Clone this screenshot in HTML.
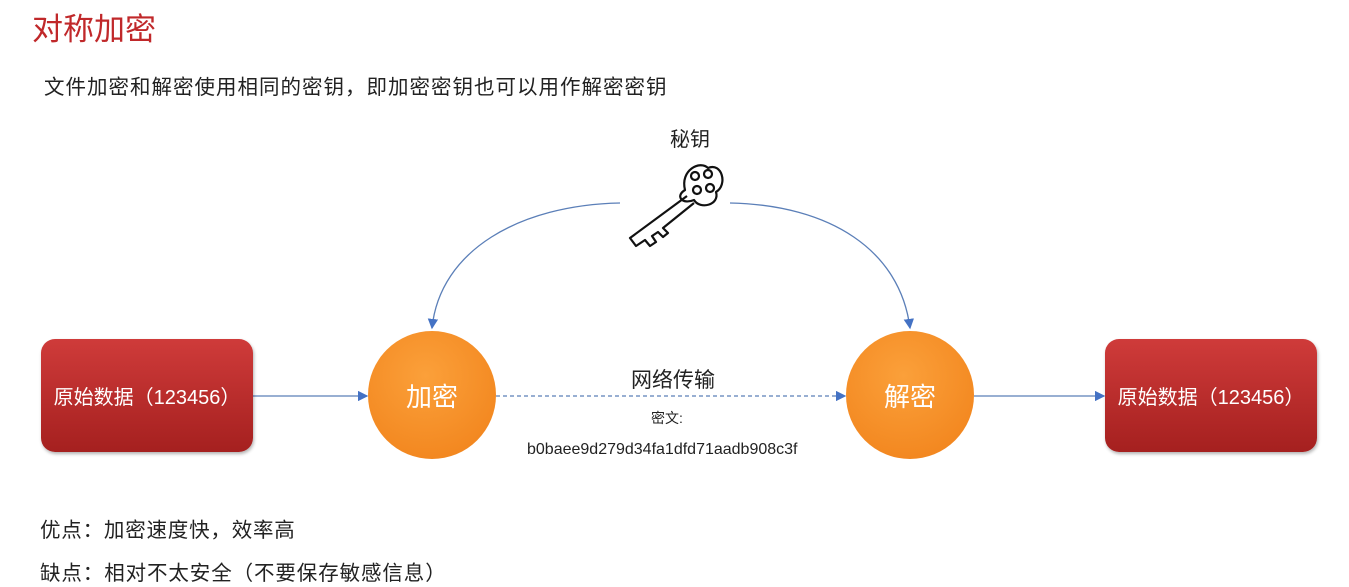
<!DOCTYPE html>
<html><head><meta charset="utf-8"><style>
body{margin:0;width:1349px;height:587px;background:#fff;position:relative;overflow:hidden;font-family:"Liberation Sans","Noto Sans CJK SC",sans-serif;color:#222}
.t{position:absolute;white-space:nowrap}
.box{position:absolute;width:212px;height:113px;border-radius:14px;background:linear-gradient(#cf3b3a,#a5201f);color:#fff;font-size:20px;display:flex;align-items:center;justify-content:center;box-shadow:1px 2px 3px rgba(0,0,0,.3)}
.c{position:absolute;width:128px;height:128px;border-radius:50%;background:radial-gradient(circle at 45% 35%,#fba03a,#f08018);color:#fff;font-size:26px;display:flex;align-items:center;justify-content:center}
</style></head><body>
<div class="t" style="left:32px;top:4px;font-size:31px;color:#c0282a">对称加密</div>
<div class="t" style="left:44px;top:70px;font-size:20.5px;letter-spacing:1px">文件加密和解密使用相同的密钥，即加密密钥也可以用作解密密钥</div>
<div class="t" style="left:670px;top:123px;font-size:20px">秘钥</div>
<svg width="1349" height="587" style="position:absolute;left:0;top:0">
<defs><marker id="a" markerWidth="8" markerHeight="8" refX="7" refY="4" orient="auto"><path d="M0,0L8,4L0,8z" fill="#4472c4"/></marker></defs>
<path d="M620,203 C520,205 440,250 432,328" fill="none" stroke="#5b7fb8" stroke-width="1.3" marker-end="url(#a)"/>
<path d="M730,203 C830,205 900,250 910,328" fill="none" stroke="#5b7fb8" stroke-width="1.3" marker-end="url(#a)"/>
<line x1="253" y1="396" x2="367" y2="396" stroke="#5b7fb8" stroke-width="1.3" marker-end="url(#a)"/>
<line x1="496" y1="396" x2="845" y2="396" stroke="#5b7fb8" stroke-width="1.3" stroke-dasharray="4,3" marker-end="url(#a)"/>
<line x1="974" y1="396" x2="1104" y2="396" stroke="#5b7fb8" stroke-width="1.3" marker-end="url(#a)"/>
<g fill="none" stroke="#111" stroke-width="2.2" stroke-linejoin="round">
<path d="M685,190 C680,170 700,160 708,168 C722,162 728,185 716,192 C720,205 700,210 694,200 C682,205 675,196 685,190z"/>
<circle cx="695" cy="176" r="4"/><circle cx="708" cy="174" r="4"/><circle cx="697" cy="190" r="4"/><circle cx="710" cy="188" r="4"/>
<path d="M687,196 L630,238 L636,246 L645,240 L650,246 L656,242 L652,236 L658,232 L663,237 L668,233 L663,228 L694,203"/>
</g>
</svg>
<div class="box" style="left:41px;top:339px">原始数据（123456）</div>
<div class="box" style="left:1105px;top:339px">原始数据（123456）</div>
<div class="c" style="left:368px;top:331px">加密</div>
<div class="c" style="left:846px;top:331px">解密</div>
<div class="t" style="left:631px;top:364px;font-size:21px">网络传输</div>
<div class="t" style="left:651px;top:408px;font-size:14px">密文:</div>
<div class="t" style="left:527px;top:441px;font-size:16px">b0baee9d279d34fa1dfd71aadb908c3f</div>
<div class="t" style="left:40px;top:513px;font-size:20.5px;letter-spacing:0.8px">优点：加密速度快，效率高</div>
<div class="t" style="left:40px;top:556px;font-size:20.5px;letter-spacing:0.9px">缺点：相对不太安全（不要保存敏感信息）</div>
</body></html>
